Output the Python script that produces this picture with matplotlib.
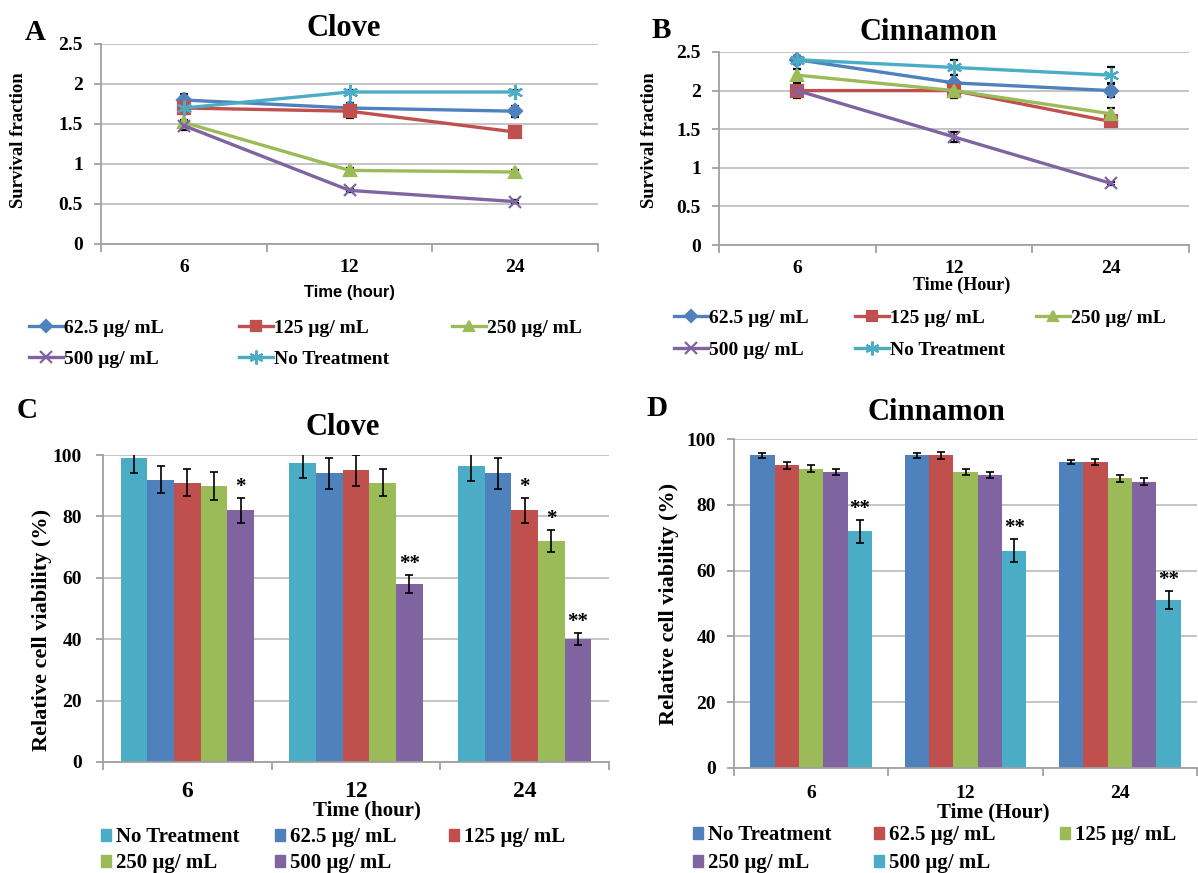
import numpy as np
import matplotlib
matplotlib.use('Agg')
import matplotlib.pyplot as plt
from matplotlib.lines import Line2D
from matplotlib.patches import Patch

plt.rcParams['font.family'] = ['Liberation Serif', 'DejaVu Serif']
plt.rcParams['font.weight'] = 'bold'
plt.rcParams['axes.labelweight'] = 'bold'

# categories
times = ['6', '12', '24']
line_names = ['62.5 µg/ mL', '125 µg/ mL', '250 µg/ mL', '500 µg/ mL', 'No Treatment']
bar_names = ['No Treatment', '62.5 µg/ mL', '125 µg/ mL', '250 µg/ mL', '500 µg/ mL']

# survival fraction (rows follow line_names)
clove_surv = [[1.80, 1.70, 1.66], [1.70, 1.66, 1.40], [1.52, 0.92, 0.90],
              [1.48, 0.67, 0.53], [1.70, 1.90, 1.90]]
clove_surv_err = [[0.08, 0.06, 0.07], [0.07, 0.09, 0.04], [0.03, 0.03, 0.02],
                  [0.05, 0.02, 0.02], [0.02, 0.02, 0.02]]
cinn_surv = [[2.40, 2.10, 2.00], [2.00, 2.00, 1.60], [2.20, 2.00, 1.70],
             [2.00, 1.40, 0.80], [2.40, 2.30, 2.20]]
cinn_surv_err = [[0.05, 0.10, 0.08], [0.10, 0.08, 0.05], [0.08, 0.10, 0.08],
                 [0.05, 0.06, 0.02], [0.05, 0.10, 0.10]]
surv_ticks = [0, 0.5, 1, 1.5, 2, 2.5]
surv_ticklabels = ['0', '0.5', '1', '1.5', '2', '2.5']

# relative viability (rows follow bar_names)
clove_via = [[99, 97.5, 96.5], [92, 94, 94], [91, 95, 82], [90, 91, 72], [82, 58, 40]]
clove_via_err = [[5, 5, 5], [4.5, 5, 5], [4.5, 5, 4], [4.5, 4.5, 3.5], [4, 3, 2]]
clove_stars = [['', '', ''], ['', '', ''], ['', '', '*'], ['', '', '*'], ['*', '**', '**']]
cinn_via = [[95, 95, 93], [92, 95, 93], [91, 90, 88], [90, 89, 87], [72, 66, 51]]
cinn_via_err = [[0.8, 0.8, 0.7], [1, 1, 1], [1, 1, 1], [1, 1, 1], [3.5, 3.5, 2.7]]
cinn_stars = [['', '', ''], ['', '', ''], ['', '', ''], ['', '', ''], ['**', '**', '**']]
via_ticks = [0, 20, 40, 60, 80, 100]

BLUE, RED, GREEN, PURPLE, CYAN = '#4F81BD', '#C0504D', '#9BBB59', '#8064A2', '#4BACC6'
line_colors = [BLUE, RED, GREEN, PURPLE, CYAN]
line_markers = ['D', 's', '^', 'x', (6, 2, 0)]
line_msize = [7, 8, 8, 9, 11]
clove_bar_colors = [CYAN, BLUE, RED, GREEN, PURPLE]
cinn_bar_colors = [BLUE, RED, GREEN, PURPLE, CYAN]

GRID = '#BFBFBF'
SPINE = '#A0A0A0'

W, H = 1198, 873
fig = plt.figure(figsize=(W / 100, H / 100), dpi=100)


def px_axes(l, t, r, b):
    return fig.add_axes([l / W, 1 - b / H, (r - l) / W, (b - t) / H])


def style(ax, ylim, yticks, yticklabels, xfs, xpad, ypad):
    x = np.arange(len(times))
    ax.set_xlim(-0.5, 2.5)
    ax.set_ylim(*ylim)
    ax.set_yticks(yticks)
    ax.set_yticklabels(yticklabels, fontsize=14)
    ax.yaxis.grid(True, color=GRID, lw=1.3)
    ax.set_axisbelow(True)
    for s in ['top', 'right']:
        ax.spines[s].set_visible(False)
    for s in ['left', 'bottom']:
        ax.spines[s].set_color(SPINE)
        ax.spines[s].set_linewidth(1.3)
    ax.set_xticks([-0.5, 0.5, 1.5, 2.5])
    ax.set_xticklabels([])
    ax.set_xticks(x, minor=True)
    ax.set_xticklabels(times, minor=True, fontsize=xfs)
    ax.tick_params(axis='x', which='major', length=6, color=SPINE, width=1.3)
    ax.tick_params(axis='x', which='minor', length=0, pad=xpad)
    ax.tick_params(axis='y', length=5, color=SPINE, width=1.3, pad=ypad)


def line_panel(ax, vals, errs):
    x = np.arange(len(times))
    handles = []
    for i in range(len(line_names)):
        c = line_colors[i]
        ax.errorbar(x, vals[i], yerr=errs[i], color=c, lw=2.4, marker=line_markers[i],
                    ms=line_msize[i], mfc=c, mec=c, mew=1.6, ecolor='black',
                    elinewidth=1.1, capsize=3, capthick=1.1, zorder=3)
        handles.append(Line2D([], [], color=c, lw=2.4, marker=line_markers[i],
                              ms=line_msize[i] - 1, mfc=c, mec=c, mew=1.6))
    return handles


def bar_panel(ax, vals, errs, colors, stars):
    x = np.arange(len(times))
    w = 0.158
    for i in range(len(bar_names)):
        xs = x + (i - 2) * w
        ax.bar(xs, vals[i], w, color=colors[i], yerr=errs[i], zorder=2,
               error_kw=dict(ecolor='black', elinewidth=1.2, capsize=3, capthick=1.2))
        for j in range(len(times)):
            if stars[i][j]:
                ax.text(xs[j], vals[i][j] + errs[i][j] + 0.3, stars[i][j], ha='center',
                        va='bottom', fontsize=15)
    return [Patch(color=c) for c in colors]


def place_legend(handles, labels, spots, fs, **kw):
    for h, lab, (px, py) in zip(handles, labels, spots):
        fig.legend([h], [lab], loc='center left', bbox_to_anchor=(px / W, 1 - py / H),
                   frameon=False, borderpad=0, borderaxespad=0,
                   prop={'size': fs, 'weight': 'bold'}, **kw)


# ---- A: clove survival
axA = px_axes(101, 44, 598, 244)
hA = line_panel(axA, clove_surv, clove_surv_err)
style(axA, (0, 2.5), surv_ticks, surv_ticklabels, 14, 11, 8)
axA.set_xlabel('Time (hour)', family='Liberation Sans', fontsize=12, fontweight='bold',
               va='center')
axA.xaxis.set_label_coords(0.499, -0.24)
axA.set_ylabel('Survival fraction', fontsize=13.5, fontweight='bold', va='center')
axA.yaxis.set_label_coords(-0.165, 0.52)
fig.text(344 / W, 1 - 28 / H, 'Clove', ha='center', va='center', fontsize=22)
fig.text(35 / W, 1 - 32 / H, 'A', ha='center', va='center', fontsize=21)
place_legend(hA, line_names, [(29, 328), (239, 328), (452, 328), (29, 359), (239, 359)],
             14, handlelength=1.75, handletextpad=0.05)

# ---- B: cinnamon survival
axB = px_axes(719, 52, 1189, 245)
hB = line_panel(axB, cinn_surv, cinn_surv_err)
style(axB, (0, 2.5), surv_ticks, surv_ticklabels, 14, 11, 8)
axB.set_xlabel('Time (Hour)', fontsize=13, fontweight='bold', va='center')
axB.xaxis.set_label_coords(0.517, -0.207)
axB.set_ylabel('Survival fraction', fontsize=13.5, fontweight='bold', va='center')
axB.yaxis.set_label_coords(-0.147, 0.544)
fig.text(928 / W, 1 - 33 / H, 'Cinnamon', ha='center', va='center', fontsize=22)
fig.text(661 / W, 1 - 30 / H, 'B', ha='center', va='center', fontsize=21)
place_legend(hB, line_names, [(674, 318), (855, 318), (1036, 318), (674, 350), (855, 350)],
             14, handlelength=1.75, handletextpad=0.05)

# ---- C: clove viability
axC = px_axes(103, 455, 609, 762)
hC = bar_panel(axC, clove_via, clove_via_err, clove_bar_colors, clove_stars)
style(axC, (0, 100), via_ticks, [str(t) for t in via_ticks], 17, 14, 10)
axC.set_xlabel('Time (hour)', fontsize=15, fontweight='bold', va='center')
axC.xaxis.set_label_coords(0.522, -0.158)
axC.set_ylabel('Relative cell viability (%)', fontsize=16, fontweight='bold', va='center')
axC.yaxis.set_label_coords(-0.12, 0.43)
fig.text(343 / W, 1 - 427 / H, 'Clove', ha='center', va='center', fontsize=22)
fig.text(27 / W, 1 - 410 / H, 'C', ha='center', va='center', fontsize=21)
place_legend(hC, bar_names, [(101, 837), (275, 837), (449, 837), (101, 863), (275, 863)],
             15, handlelength=0.5, handleheight=0.5, handletextpad=0.2)

# ---- D: cinnamon viability
axD = px_axes(734, 439, 1197, 768)
hD = bar_panel(axD, cinn_via, cinn_via_err, cinn_bar_colors, cinn_stars)
style(axD, (0, 100), via_ticks, [str(t) for t in via_ticks], 14, 12, 8)
axD.set_xlabel('Time (Hour)', fontsize=15, fontweight='bold', va='center')
axD.xaxis.set_label_coords(0.559, -0.135)
axD.set_ylabel('Relative cell viability (%)', fontsize=16, fontweight='bold', va='center')
axD.yaxis.set_label_coords(-0.14, 0.50)
fig.text(936 / W, 1 - 413 / H, 'Cinnamon', ha='center', va='center', fontsize=22)
fig.text(657 / W, 1 - 408 / H, 'D', ha='center', va='center', fontsize=21)
place_legend(hD, bar_names, [(693, 835), (874, 835), (1060, 835), (693, 863), (874, 863)],
             15, handlelength=0.5, handleheight=0.5, handletextpad=0.2)

fig.savefig('out.png', dpi=100)
